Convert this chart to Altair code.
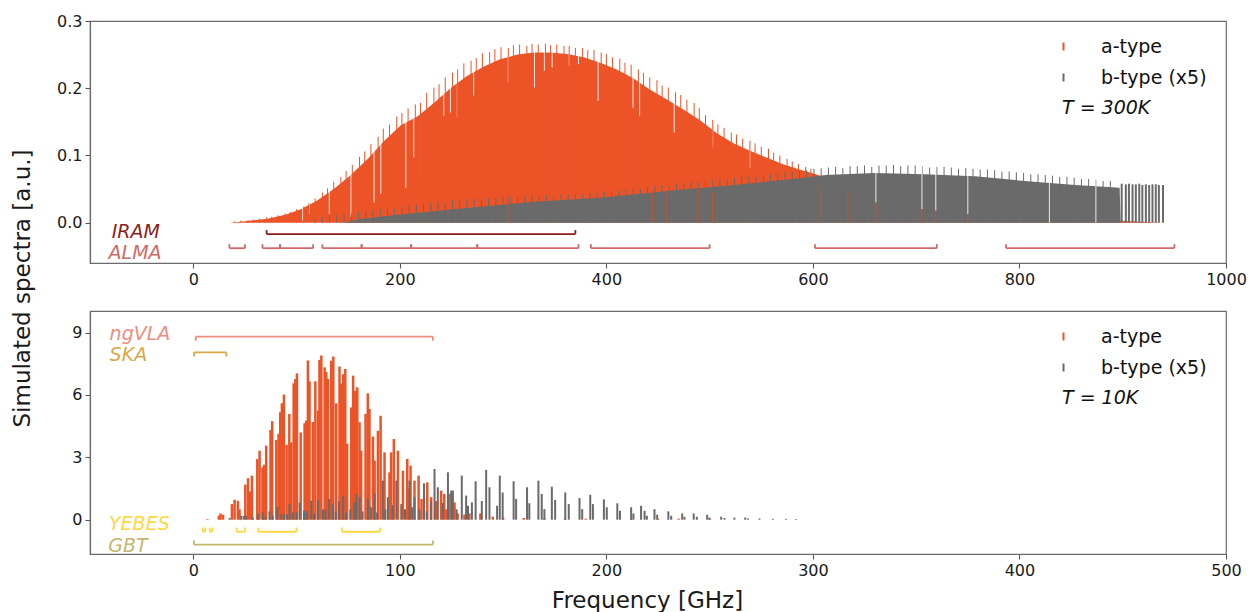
import altair as alt
import pandas as pd

RED = "#EC5428"
GRAY = "#6A6A6A"
FONT = "DejaVu Sans"

# ---------------- T = 300 K panel ----------------
# a-type: solid body of the dense line forest (freq GHz, value)
a300_body = [(35, 0.0), (50, 0.002), (72, 0.006), (90, 0.012), (104, 0.02), (120, 0.033), (136, 0.05),
             (152, 0.07), (169, 0.095), (185, 0.122), (201, 0.145), (217, 0.158), (233, 0.178), (249, 0.2),
             (265, 0.218), (281, 0.232), (297, 0.243), (314, 0.25), (330, 0.253), (346, 0.253), (362, 0.251),
             (378, 0.246), (394, 0.238), (410, 0.228), (426, 0.215), (442, 0.198), (459, 0.183), (475, 0.168),
             (491, 0.152), (507, 0.133), (523, 0.118), (539, 0.107), (555, 0.097), (571, 0.087), (587, 0.079),
             (603, 0.072), (620, 0.062), (660, 0.045), (700, 0.03), (750, 0.018), (800, 0.01), (850, 0.006),
             (900, 0.003), (940, 0.0)]
# a-type: strongest lines sticking out of the body
a300_peaks = [(40, 0.002), (46, 0.003), (53, 0.004), (58, 0.005), (64, 0.006), (71, 0.008), (76, 0.009),
              (82, 0.011), (89, 0.014), (94, 0.016), (100, 0.020), (107, 0.024), (112, 0.029), (118, 0.036),
              (125, 0.045), (130, 0.051), (136, 0.061), (143, 0.068), (148, 0.077), (154, 0.086), (161, 0.098),
              (166, 0.106), (172, 0.117), (179, 0.128), (184, 0.140), (190, 0.146), (197, 0.158), (202, 0.163),
              (208, 0.170), (215, 0.176), (220, 0.178), (226, 0.193), (233, 0.201), (238, 0.206), (244, 0.216),
              (251, 0.223), (256, 0.228), (262, 0.237), (269, 0.241), (274, 0.245), (280, 0.252), (287, 0.254),
              (292, 0.258), (298, 0.261), (305, 0.260), (310, 0.264), (316, 0.265), (323, 0.263), (328, 0.266),
              (334, 0.265), (341, 0.266), (346, 0.264), (352, 0.265), (359, 0.263), (364, 0.263), (370, 0.260),
              (377, 0.260), (382, 0.257), (388, 0.257), (395, 0.253), (400, 0.251), (406, 0.246), (413, 0.244),
              (418, 0.238), (424, 0.235), (431, 0.228), (436, 0.223), (442, 0.216), (449, 0.212), (454, 0.204),
              (460, 0.201), (467, 0.194), (472, 0.190), (478, 0.183), (485, 0.178), (490, 0.171), (496, 0.160),
              (503, 0.153), (508, 0.146), (514, 0.141), (521, 0.134), (526, 0.131), (532, 0.125), (539, 0.122),
              (544, 0.118), (550, 0.113), (557, 0.110), (562, 0.104), (568, 0.100), (575, 0.095), (580, 0.091),
              (586, 0.087), (593, 0.083), (598, 0.080)]
# a-type: gaps in the forest (freq, bottom of gap, top of gap)
a300_gaps = [(106, 0.003, 0.025), (112.4, 0.013, 0.03), (131.7, 0.013, 0.05), (152.7, 0.008, 0.075),
             (175, 0.03, 0.11), (181.6, 0.043, 0.12), (205.8, 0.052, 0.15), (213.5, 0.097, 0.155),
             (220, 0.072, 0.165), (242.6, 0.159, 0.195), (249, 0.164, 0.205), (255.7, 0.157, 0.21),
             (271.5, 0.189, 0.228), (305, 0.209, 0.248), (330.4, 0.201, 0.255), (340, 0.226, 0.255),
             (347.5, 0.231, 0.255), (364, 0.233, 0.253), (373, 0.236, 0.25), (392, 0.181, 0.242),
             (425.8, 0.171, 0.22), (432.2, 0.159, 0.212), (465.7, 0.134, 0.18), (503, 0.112, 0.14),
             (539, 0.082, 0.108)]
# a-type lines seen through the b-type forest
a300_through = [(304.7, 0.04), (444.8, 0.047), (458.6, 0.045), (489, 0.05), (502.7, 0.045), (608, 0.055),
                (634, 0.047), (661, 0.03), (705.6, 0.02), (719, 0.018), (750, 0.013)]

# b-type (x5): body, peaks, gaps, isolated high-frequency lines
b300_body = [(145, 0.0), (160, 0.005), (200, 0.012), (265, 0.022), (330, 0.031), (394, 0.037), (459, 0.047),
             (523, 0.056), (587, 0.066), (612, 0.071), (660, 0.074), (708, 0.072), (757, 0.069), (805, 0.062),
             (854, 0.056), (886, 0.053), (897, 0.052), (898, 0.0)]
b300_peaks = [(118, 0.006), (125, 0.008), (132, 0.010), (139, 0.011), (146, 0.013), (153, 0.014), (160, 0.016),
              (167, 0.017), (174, 0.019), (181, 0.020), (188, 0.022), (195, 0.021), (202, 0.024), (209, 0.026),
              (216, 0.027), (223, 0.029), (230, 0.030), (237, 0.031), (244, 0.030), (251, 0.033), (258, 0.034),
              (265, 0.035), (272, 0.036), (279, 0.035), (286, 0.037), (293, 0.038), (300, 0.038), (307, 0.039),
              (314, 0.038), (321, 0.040), (328, 0.040), (335, 0.040), (342, 0.041), (349, 0.039), (356, 0.042),
              (363, 0.042), (370, 0.043), (377, 0.042), (384, 0.044), (391, 0.045), (398, 0.046), (405, 0.045),
              (412, 0.048), (419, 0.049), (426, 0.051), (433, 0.050), (440, 0.053), (447, 0.055), (454, 0.056),
              (461, 0.055), (468, 0.058), (475, 0.059), (482, 0.061), (489, 0.060), (496, 0.063), (503, 0.064),
              (510, 0.065), (517, 0.064), (524, 0.067), (531, 0.068), (538, 0.069), (545, 0.068), (552, 0.071),
              (559, 0.072), (566, 0.073), (573, 0.075), (580, 0.076), (587, 0.077), (594, 0.078), (601, 0.080),
              (608, 0.081), (615, 0.082), (622, 0.083), (629, 0.081), (636, 0.084), (643, 0.084), (650, 0.085),
              (657, 0.083), (664, 0.085), (671, 0.085), (678, 0.086), (685, 0.084), (692, 0.085), (699, 0.085),
              (706, 0.084), (713, 0.082), (720, 0.083), (727, 0.083), (734, 0.082), (741, 0.080), (748, 0.081),
              (755, 0.080), (762, 0.079), (769, 0.079), (776, 0.078), (783, 0.076), (790, 0.076), (797, 0.075),
              (804, 0.074), (811, 0.072), (818, 0.072), (825, 0.071), (832, 0.070), (839, 0.068), (846, 0.068),
              (853, 0.067), (860, 0.065), (867, 0.065), (874, 0.064), (881, 0.062), (888, 0.062)]
b300_gaps = [(661, 0.03, 0.09), (705.6, 0.02, 0.09), (719, 0.018, 0.09), (750, 0.013, 0.085),
             (829, 0.0, 0.075), (874, 0.0, 0.07)]
b300_lines = [(899, 0.058), (903, 0.057), (906, 0.058), (909.5, 0.057), (912.7, 0.057), (916, 0.058),
              (919, 0.056), (922.4, 0.057), (925.6, 0.056), (928.8, 0.057), (932, 0.057), (935, 0.056),
              (939, 0.056)]

# Telescope coverage, T = 300 K panel: (name, colour, bar level, label x, label y, segments)
inst_300 = [
    ("IRAM", "#8E1D1D", -0.017, -79, -0.0134, [(71, 370)]),
    ("ALMA", "#CF6A6A", -0.038, -82, -0.045,
     [(35, 50), (67, 84), (84, 116), (125, 163), (163, 211), (211, 275), (275, 373),
      (385, 500), (602, 720), (787, 950)]),
]

# ---------------- T = 10 K panel ----------------
a10_lines = [(6.8, 0.03), (12.4, 0.19), (13.2, 0.3), (14.4, 0.24), (18.7, 0.75), (20.0, 0.96), (21.6, 0.91),
             (22.4, 0.5), (25.2, 1.69), (26.5, 2.0), (27.4, 1.36), (28.4, 2.12), (31.0, 2.92), (32.1, 3.32),
             (33.5, 2.52), (34.3, 2.65), (35.3, 3.56), (37.4, 4.32), (38.2, 4.74), (40.2, 3.84), (41.3, 4.13),
             (42.1, 5.17), (42.9, 5.6), (43.9, 6.02), (45.2, 3.6), (46.5, 5.09), (47.4, 3.72), (48.6, 6.56),
             (49.4, 6.77), (50.2, 7.04), (52.0, 4.2), (53.9, 4.64), (54.7, 4.77), (55.5, 7.66), (56.3, 6.66),
             (57.9, 4.7), (59.1, 6.66), (60.4, 5.25), (61.1, 7.69), (62.0, 7.9), (63.6, 7.33), (64.4, 7.1),
             (65.2, 6.77), (66.8, 7.65), (67.8, 7.85), (69.2, 5.6), (70.8, 7.37), (71.6, 6.55), (72.6, 7.0),
             (73.6, 7.25), (74.5, 3.66), (76.5, 5.4), (77.4, 6.93), (78.4, 6.2), (79.4, 6.37), (80.5, 4.69),
             (81.3, 3.32), (83.4, 5.09), (84.5, 6.08), (85.3, 5.33), (87.0, 4.0), (87.8, 2.84), (89.4, 4.28),
             (90.7, 5.0), (92.6, 3.24), (95.0, 2.28), (95.8, 3.24), (97.1, 3.88), (99.1, 3.32), (101.5, 2.36),
             (103.6, 2.92), (104.3, 1.5), (105.2, 2.6), (107.1, 1.88), (109.1, 2.12), (110.5, 1.0),
             (113.3, 1.8), (115.2, 1.08), (117.5, 0.9), (120.0, 1.4), (121.5, 1.24), (122.5, 0.5),
             (124.0, 1.25), (126.5, 0.83), (128.0, 0.3), (131.3, 0.25), (133.7, 0.3), (139.0, 0.3),
             (145.0, 0.15), (150.0, 0.1), (160.0, 0.08), (170.0, 0.06), (180.0, 0.05), (190.0, 0.05),
             (212.0, 0.05), (225.0, 0.05), (235.0, 0.05), (250.0, 0.04)]
b10_lines = [(17.6, 0.08), (23.2, 0.19), (24.4, 0.19), (25.6, 0.19), (28.9, 0.1), (31.3, 0.27), (33.7, 0.35),
             (35.0, 0.15), (36.9, 0.4), (38.5, 0.2), (40.7, 0.6), (42.6, 0.27), (44.0, 0.3), (45.5, 0.25),
             (46.6, 0.75), (48.2, 0.35), (50.0, 0.35), (51.5, 0.83), (53.6, 0.43), (55.0, 0.4), (57.1, 0.91),
             (58.5, 0.3), (60.4, 0.95), (62.8, 0.5), (64.0, 0.45), (65.8, 1.0), (67.6, 0.77), (69.0, 0.4),
             (70.5, 0.9), (72.6, 1.16), (74.0, 0.35), (76.0, 0.5), (78.1, 0.83), (78.9, 1.24), (80.5, 1.08),
             (82.0, 0.4), (84.5, 1.0), (86.0, 0.6), (87.8, 1.24), (89.0, 0.35), (91.8, 1.88), (93.0, 0.5),
             (94.2, 1.08), (96.5, 0.7), (98.3, 1.88), (100.7, 0.75), (102.5, 0.5), (104.7, 1.88), (106.0, 0.6),
             (107.1, 1.08), (109.5, 0.5), (111.7, 1.75), (113.0, 0.4), (115.0, 0.9), (116.8, 2.44),
             (118.4, 1.56), (120.8, 0.8), (123.3, 2.28), (124.9, 1.4), (125.7, 1.4), (127.5, 0.5),
             (130.0, 2.12), (132.1, 1.16), (133.0, 0.67), (134.9, 0.83), (136.7, 1.85), (139.7, 0.9),
             (141.8, 2.4), (143.4, 1.56), (147.1, 0.67), (148.4, 2.12), (149.8, 1.31), (155.1, 1.85),
             (156.3, 1.0), (161.6, 1.56), (162.7, 0.79), (167.1, 1.88), (168.7, 1.24), (170.0, 0.51),
             (173.6, 1.59), (175.2, 0.95), (180.1, 1.31), (181.8, 0.75), (187.0, 1.04), (188.3, 0.51),
             (192.2, 1.2), (193.5, 0.75), (198.8, 0.98), (200.2, 0.6), (205.3, 0.79), (206.6, 0.43),
             (212.0, 0.6), (213.1, 0.3), (216.8, 0.67), (218.5, 0.43), (219.6, 0.19), (223.3, 0.51),
             (224.6, 0.24), (230.0, 0.4), (231.4, 0.19), (236.7, 0.3), (237.8, 0.14), (242.3, 0.3),
             (243.8, 0.14), (248.8, 0.24), (249.9, 0.1), (255.6, 0.14), (257.2, 0.08), (262.0, 0.1),
             (267.2, 0.1), (268.5, 0.06), (274.1, 0.06), (280.6, 0.04), (287.0, 0.04), (291.9, 0.03)]

inst_10 = [
    ("ngVLA", "#F08B7F", 8.81, -40.5, 8.95, [(1.2, 116)]),
    ("SKA", "#D9A845", 8.05, -40.5, 7.94, [(0.35, 16)]),
    ("YEBES", "#FFD744", -0.58, -40.8, -0.2, [(4.6, 5.8), (8.0, 9.2), (21, 25), (31.5, 50), (72, 90.5)]),
    ("GBT", "#C4B66C", -1.2, -41.2, -1.27, [(0.3, 116)]),
]
hook_dir_300 = {"IRAM": 1, "ALMA": 1}
hook_dir_10 = {"ngVLA": -1, "SKA": -1, "YEBES": 1, "GBT": 1}

TYPES = ["a-type", "b-type (x5)"]


def pts(pairs, kind=None):
    df = pd.DataFrame(pairs, columns=["freq", "val"])
    if kind is not None:
        df["type"] = kind
    return df


def make_panel(X, Y, layers_spec, insts, hook_dir, hook_len, temp_label, width, height):
    layers = []
    for kind, payload in layers_spec:
        if kind == "area":
            df, color = payload
            layers.append(alt.Chart(df).mark_area(color=color, interpolate="linear", opacity=1)
                          .encode(x=X, y=Y, y2=alt.datum(0)))
        elif kind == "rule":
            df, color, sw, op = payload
            layers.append(alt.Chart(df).mark_rule(color=color, strokeWidth=sw, opacity=op)
                          .encode(x=X, y=Y, y2=alt.datum(0)))
        elif kind == "gap":
            df, sw = payload
            layers.append(alt.Chart(df).mark_rule(color="white", strokeWidth=sw, opacity=0.85)
                          .encode(x=X, y=Y, y2="val2:Q"))
        elif kind == "legend_rule":
            df, sw, legend = payload
            layers.append(alt.Chart(df).mark_rule(strokeWidth=sw)
                          .encode(x=X, y=Y, y2=alt.datum(0),
                                  color=alt.Color("type:N", scale=alt.Scale(domain=TYPES, range=[RED, GRAY]),
                                                  legend=legend)))
    # instrument coverage bars
    for name, color, level, lx, ly, segs in insts:
        seg_df = pd.DataFrame([(a, b, level) for a, b in segs], columns=["freq", "freq2", "val"])
        hooks = []
        for a, b in segs:
            for f in (a, b):
                hooks.append((f, level, level + hook_dir[name] * hook_len))
        hook_df = pd.DataFrame(hooks, columns=["freq", "val", "val2"])
        lab_df = pd.DataFrame([(lx, ly, name)], columns=["freq", "val", "label"])
        layers.append(alt.Chart(seg_df).mark_rule(color=color, strokeWidth=1.8)
                      .encode(x=X, x2="freq2:Q", y=Y))
        layers.append(alt.Chart(hook_df).mark_rule(color=color, strokeWidth=1.8)
                      .encode(x=X, y=Y, y2="val2:Q"))
        layers.append(alt.Chart(lab_df).mark_text(align="left", baseline="middle", fontStyle="italic",
                                                  fontSize=19, font=FONT, color=color)
                      .encode(x=X, y=Y, text="label:N"))
    tdf = pd.DataFrame({"label": [temp_label]})
    layers.append(alt.Chart(tdf).mark_text(align="left", baseline="middle", fontStyle="italic",
                                           fontSize=19, font=FONT, color="#111")
                  .encode(x=alt.value(972), y=alt.value(87), text="label:N"))
    return alt.layer(*layers).properties(width=width, height=height)


def legend():
    return alt.Legend(title=None, orient="none", legendX=964, legendY=16,
                      symbolType="M0,-1L0,1", symbolSize=64, symbolStrokeWidth=2,
                      labelFontSize=19, labelFont=FONT, labelColor="#111", labelOffset=28,
                      rowPadding=11, padding=0)


X300 = alt.X("freq:Q", scale=alt.Scale(domain=[-100, 1000], nice=False, zero=False),
             axis=alt.Axis(values=[0, 200, 400, 600, 800, 1000], format="d", title=None, labelFlush=False))
Y300 = alt.Y("val:Q", scale=alt.Scale(domain=[-0.06, 0.3], nice=False, zero=False),
             axis=alt.Axis(values=[0.0, 0.1, 0.2, 0.3], format=".1f", title="Simulated spectra [a.u.]",
                           titleY=267, titlePadding=22, labelFlush=False))
X10 = alt.X("freq:Q", scale=alt.Scale(domain=[-50, 500], nice=False, zero=False),
            axis=alt.Axis(values=[0, 100, 200, 300, 400, 500], format="d", title="Frequency [GHz]",
                          titleX=557, titlePadding=11, labelFlush=False))
Y10 = alt.Y("val:Q", scale=alt.Scale(domain=[-1.65, 10.04], nice=False, zero=False),
            axis=alt.Axis(values=[0, 3, 6, 9], title=None, labelFlush=False))

gaps300 = pd.DataFrame(a300_gaps, columns=["freq", "val", "val2"])
bgaps300 = pd.DataFrame(b300_gaps, columns=["freq", "val", "val2"])

top_spec = [
    ("area", (pts(a300_body), RED)),
    ("gap", (gaps300, 1)),
    ("legend_rule", (pts(a300_peaks, "a-type"), 1, legend())),
    ("area", (pts(b300_body), GRAY)),
    ("legend_rule", (pts(b300_peaks, "b-type (x5)"), 1, legend())),
    ("rule", (pts(b300_lines), GRAY, 2, 1)),
    ("gap", (bgaps300, 1)),
    ("rule", (pts(a300_through), "#C5532F", 1, 0.9)),
]
bottom_spec = [
    ("legend_rule", (pts(a10_lines, "a-type"), 2.5, legend())),
    ("legend_rule", (pts(b10_lines, "b-type (x5)"), 2, legend())),
]

top = make_panel(X300, Y300, top_spec, inst_300, hook_dir_300, 0.006, "T = 300K", 1136, 242)
bottom = make_panel(X10, Y10, bottom_spec, inst_10, hook_dir_10, 0.2, "T = 10K", 1136, 243)

chart = (
    alt.vconcat(top, bottom, spacing=48, bounds="flush")
    .resolve_scale(x="independent", y="independent", color="independent")
    .properties(padding={"left": 10, "top": 12, "right": 0, "bottom": 0})
    .configure_view(stroke="#6b6b6b", strokeWidth=1.2)
    .configure_axis(labelFont=FONT, labelFontSize=16, labelColor="#1a1a1a", tickColor="#555555",
                    domainColor="#6b6b6b", domainWidth=1.2, tickSize=5, tickWidth=1.1, labelPadding=3,
                    grid=False, titleFont=FONT, titleFontSize=23, titleFontWeight="normal",
                    titleColor="#1a1a1a")
)

chart.save("out.html", embed_options={"renderer": "svg", "actions": False})
